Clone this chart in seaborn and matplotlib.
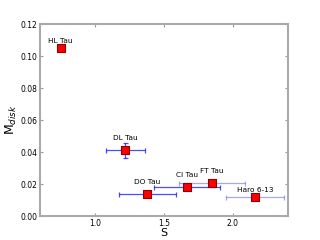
import pandas as pd
import seaborn as sns
import matplotlib.pyplot as plt

# Dados
names = ['HL Tau', 'DL Tau', 'DO Tau', 'CI Tau', 'FT Tau', 'Haro 6-13']
s_vals = [0.75, 1.22, 1.38, 1.67, 1.85, 2.16]
m_disk = [0.105, 0.041, 0.0135, 0.018, 0.0208, 0.0119]
s_err = [0.0, 0.14, 0.21, 0.24, 0.24, 0.21]
m_err = [0.0, 0.0046, 0.0, 0.0, 0.0, 0.0]
err_alpha = [0.7, 0.7, 0.7, 0.7, 0.35, 0.35]
label_dy = [3.2, 6.5, 6.5, 6.5, 6.5, 3.2]

df = pd.DataFrame({'name': names, 'S': s_vals, 'M': m_disk,
                   'xerr': s_err, 'yerr': m_err})

sns.set_style('ticks')
plt.rcParams['font.family'] = ['DejaVu Sans']
plt.rcParams['text.color'] = 'black'
plt.rcParams['axes.labelcolor'] = 'black'
plt.rcParams['xtick.labelcolor'] = 'black'
plt.rcParams['ytick.labelcolor'] = 'black'

fig, ax = plt.subplots(figsize=(3.2, 2.4), dpi=100)
fig.subplots_adjust(left=0.125, right=0.9, bottom=0.1, top=0.9)

# Barras de erro
for i, row in df.iterrows():
    ax.errorbar(row['S'], row['M'], xerr=row['xerr'] or None, yerr=row['yerr'] or None,
                fmt='none', ecolor='blue', elinewidth=0.9, capsize=1.8, capthick=0.9,
                alpha=err_alpha[i], zorder=2)

sns.scatterplot(data=df, x='S', y='M', marker='s', s=40, color='red',
                edgecolor='#8b0000', linewidth=0.8, zorder=3, ax=ax, legend=False)

# Rótulos
for i, row in df.iterrows():
    ax.annotate(row['name'], (row['S'], row['M']), xytext=(0, label_dy[i]),
                textcoords='offset points', ha='center', va='bottom', fontsize=5.3)

ax.set_xlim(0.6, 2.4)
ax.set_ylim(0, 0.12)
ax.set_xticks([1.0, 1.5, 2.0])
ax.set_yticks([0.0, 0.02, 0.04, 0.06, 0.08, 0.10, 0.12])
ax.set_yticklabels(['0.00', '0.02', '0.04', '0.06', '0.08', '0.10', '0.12'])
ax.tick_params(direction='in', length=2, width=0.8, color='#999999', labelsize=5.5,
               top=True, right=True, pad=2)
for sp in ax.spines.values():
    sp.set_color('#aaaaaa')
    sp.set_linewidth(1.5)

ax.set_xlabel('S', fontsize=8, labelpad=0)
ax.set_ylabel('M$_{disk}$', fontsize=9, labelpad=1)

plt.savefig('out.png', dpi=100)
plt.close()
